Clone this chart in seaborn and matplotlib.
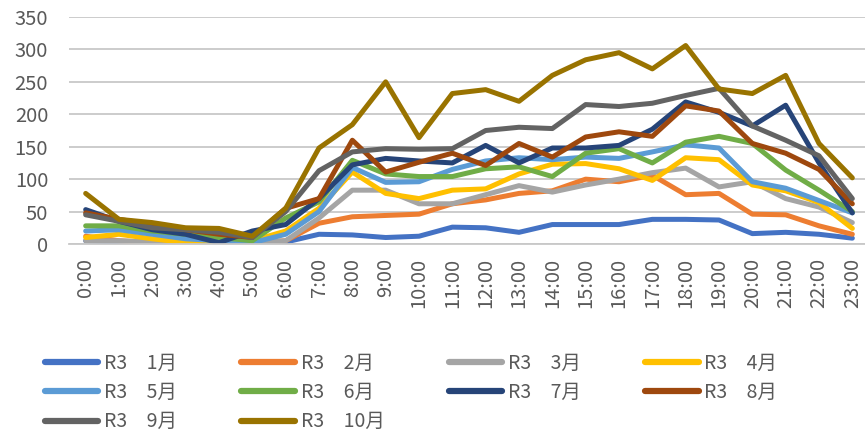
import matplotlib
matplotlib.use("Agg")
import matplotlib.pyplot as plt
import pandas as pd
import seaborn as sns

hours = [f"{h}:00" for h in range(24)]
months = ["R3\u30001月", "R3\u30002月", "R3\u30003月", "R3\u30004月", "R3\u30005月",
          "R3\u30006月", "R3\u30007月", "R3\u30008月", "R3\u30009月", "R3\u300010月"]

jan = [5, 3, 2, 0, 0, 2, 3, 15, 14, 10, 12, 26, 25, 18, 30, 30, 30, 38, 38, 37, 16, 18, 15, 9]
feb = [12, 5, 2, 0, 0, 2, 5, 32, 42, 44, 46, 62, 68, 78, 82, 100, 96, 106, 76, 78, 46, 45, 28, 15]
mar = [5, 5, 3, 2, 2, 2, 5, 40, 83, 83, 62, 62, 76, 90, 80, 91, 100, 110, 117, 88, 96, 70, 57, 33]
apr = [10, 15, 8, 2, 2, 5, 20, 55, 111, 78, 70, 83, 85, 108, 123, 124, 116, 98, 133, 130, 91, 82, 64, 24]
may = [20, 22, 15, 8, 5, 2, 15, 50, 118, 95, 96, 115, 128, 133, 130, 134, 132, 142, 153, 148, 96, 86, 67, 48]
jun = [28, 28, 20, 15, 10, 5, 40, 65, 129, 108, 104, 104, 116, 119, 104, 140, 147, 125, 157, 166, 155, 114, 83, 50]
jul = [53, 35, 22, 15, 2, 20, 30, 70, 122, 132, 128, 125, 152, 125, 148, 148, 152, 177, 219, 203, 182, 214, 125, 48]
aug = [48, 38, 30, 22, 15, 10, 55, 70, 160, 111, 126, 140, 121, 155, 134, 165, 173, 166, 213, 205, 155, 140, 115, 62]
sep = [45, 35, 25, 22, 18, 10, 50, 113, 142, 147, 146, 147, 175, 180, 178, 215, 212, 217, 229, 240, 182, 160, 136, 70]
octo = [78, 38, 33, 25, 24, 12, 55, 148, 184, 250, 164, 232, 238, 220, 260, 284, 295, 270, 306, 239, 232, 260, 155, 102]

series = [jan, feb, mar, apr, may, jun, jul, aug, sep, octo]
palette = ["#4472C4", "#ED7D31", "#A5A5A5", "#FFC000", "#5B9BD5",
           "#70AD47", "#264478", "#9E480E", "#636363", "#997300"]

df = pd.DataFrame({
    "pos": [i for _ in months for i in range(len(hours))],
    "hour": hours * len(months),
    "month": [m for m in months for _ in hours],
    "value": [v for s in series for v in s],
})

sns.set_theme(style="white")
plt.rcParams["font.family"] = ["Noto Sans CJK JP", "DejaVu Sans"]
text_color = "#595959"

fig = plt.figure(figsize=(8.65, 4.34), dpi=100)
ax = fig.add_axes([69 / 865, 1 - 244 / 434, 800 / 865, 227 / 434])

sns.lineplot(data=df, x="pos", y="value", hue="month", hue_order=months,
             palette=palette, linewidth=3.6, sort=False, legend=False, ax=ax)

ax.set_xlim(-0.5, len(hours) - 0.5)
ax.set_ylim(0, 350)
ax.set_yticks(range(0, 351, 50))
ax.set_xticks(range(len(hours)))
ax.set_xticklabels(hours, rotation=90)
ax.set_xlabel("")
ax.set_ylabel("")
ax.yaxis.grid(True, color="#C8C8C8", linewidth=1.3)
ax.xaxis.grid(False)
ax.set_axisbelow(True)
for side in ["top", "right", "left"]:
    ax.spines[side].set_visible(False)
ax.spines["bottom"].set_color("#C8C8C8")
ax.spines["bottom"].set_linewidth(1.3)
ax.tick_params(axis="y", length=0, pad=15, labelsize=14.5, labelcolor=text_color)
ax.tick_params(axis="x", length=0, pad=10, labelsize=14.5, labelcolor=text_color)

# legend reads row by row (1-4, 5-8, 9-10); matplotlib fills columns first
order = [0, 4, 8, 1, 5, 9, 2, 6, 3, 7]
handles = [plt.Line2D([], [], color=palette[i], linewidth=4.5, solid_capstyle="round") for i in order]
labels = [months[i] for i in order]
fig.legend(handles, labels, loc="upper left", bbox_to_anchor=(45 / 865, 1 - 353 / 434),
           ncol=4, frameon=False, fontsize=14, labelcolor=text_color,
           handlelength=2.75, handletextpad=0.3, columnspacing=3.3,
           labelspacing=0.42, borderpad=0, borderaxespad=0)

fig.savefig("out.png", dpi=100)
